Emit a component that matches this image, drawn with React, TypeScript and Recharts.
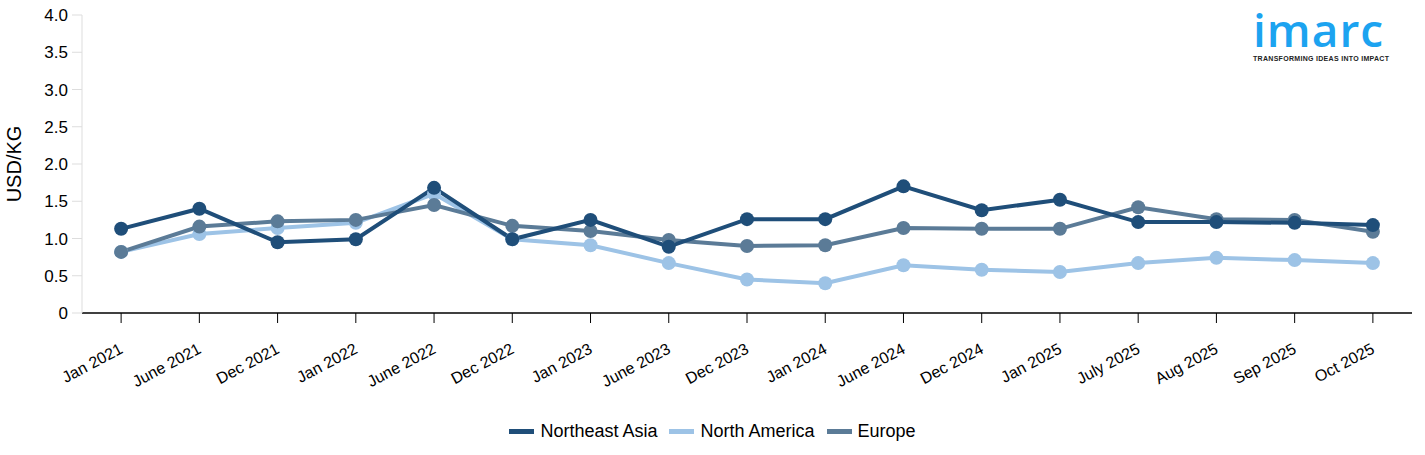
import { LineChart, Line, XAxis, YAxis } from 'recharts';

// categories on the x axis
const periods = [
  'Jan 2021', 'June 2021', 'Dec 2021', 'Jan 2022', 'June 2022', 'Dec 2022',
  'Jan 2023', 'June 2023', 'Dec 2023', 'Jan 2024', 'June 2024', 'Dec 2024',
  'Jan 2025', 'July 2025', 'Aug 2025', 'Sep 2025', 'Oct 2025',
];

// USD/KG
const northeastAsia = [1.13, 1.40, 0.95, 0.99, 1.68, 0.99, 1.25, 0.89, 1.26, 1.26, 1.70, 1.38, 1.52, 1.22, 1.22, 1.21, 1.18];
const northAmerica = [0.82, 1.06, 1.14, 1.21, 1.60, 0.99, 0.91, 0.67, 0.45, 0.40, 0.64, 0.58, 0.55, 0.67, 0.74, 0.71, 0.67];
const europe = [0.82, 1.16, 1.23, 1.25, 1.45, 1.17, 1.10, 0.98, 0.90, 0.91, 1.14, 1.13, 1.13, 1.42, 1.26, 1.25, 1.09];

const yTicks = [0, 0.5, 1, 1.5, 2, 2.5, 3, 3.5, 4];

const series = [
  { key: 'northeastAsia', name: 'Northeast Asia', color: '#1f4e79' },
  { key: 'northAmerica', name: 'North America', color: '#9dc3e6' },
  { key: 'europe', name: 'Europe', color: '#5b7b97' },
];

const data = periods.map((p, i) => ({
  period: p,
  northeastAsia: northeastAsia[i],
  northAmerica: northAmerica[i],
  europe: europe[i],
}));

const font = '"Liberation Sans", Arial, sans-serif';

const AngledTick = ({ x, y, payload }: any) => (
  <g transform={`translate(${x},${y + 22})`}>
    <text
      x={0}
      y={0}
      textAnchor="end"
      fill="#000"
      fontSize={16}
      fontFamily={font}
      transform="rotate(-28)"
      dy={6}
    >
      {payload.value}
    </text>
  </g>
);

export default function App() {
  return (
    <div style={{ position: 'absolute', left: 0, top: 0, width: 1425, height: 455, background: '#fff', fontFamily: font }}>
      <LineChart
        width={1425}
        height={455}
        data={data}
        margin={{ top: 15, right: 13, left: 0, bottom: 72 }}
      >
        <XAxis
          dataKey="period"
          scale="band"
          interval={0}
          height={70}
          tick={<AngledTick />}
          axisLine={{ stroke: '#000', strokeWidth: 1.5 }}
          tickLine={{ stroke: '#000' }}
          tickSize={10}
        />
        <YAxis
          width={82}
          domain={[0, 4]}
          ticks={yTicks}
          interval={0}
          tickFormatter={(v: number) => (v === 0 ? '0' : v.toFixed(1))}
          tick={{ fill: '#000', fontSize: 17, fontFamily: font }}
          axisLine={{ stroke: '#ddd' }}
          tickLine={{ stroke: '#ddd' }}
          tickSize={10}
          tickMargin={4}
          label={{
            value: 'USD/KG',
            angle: -90,
            position: 'insideLeft',
            dx: 9,
            style: { fill: '#000', fontSize: 20, fontFamily: font, textAnchor: 'middle' },
          }}
        />
        {[series[1], series[2], series[0]].map((s) => (
          <Line
            key={s.key}
            type="linear"
            dataKey={s.key}
            name={s.name}
            stroke={s.color}
            strokeWidth={4}
            dot={{ r: 7, fill: s.color, stroke: s.color, strokeWidth: 0 }}
            activeDot={false}
            isAnimationActive={false}
          />
        ))}
      </LineChart>

      <div
        style={{
          position: 'absolute',
          top: 421,
          left: 0,
          width: 1425,
          display: 'flex',
          justifyContent: 'center',
          gap: 12,
          fontSize: 18,
          lineHeight: '20px',
          color: '#000',
        }}
      >
        {series.map((s) => (
          <div key={s.key} style={{ display: 'flex', alignItems: 'center' }}>
            <span style={{ display: 'inline-block', width: 25, height: 5, background: s.color, marginRight: 6 }} />
            <span>{s.name}</span>
          </div>
        ))}
      </div>

      <div style={{ position: 'absolute', top: 8, left: 1253, width: 142 }}>
        <div
          style={{
            fontFamily: '"Open Sans", Roboto, sans-serif',
            fontSize: 46,
            fontWeight: 600,
            color: '#1ca3f0',
            lineHeight: '42px',
            letterSpacing: 1,
          }}
        >
          imarc
        </div>
        <div style={{ fontSize: 7, lineHeight: '9px', fontWeight: 700, color: '#222', letterSpacing: 0.3, marginTop: 4 }}>
          TRANSFORMING IDEAS INTO IMPACT
        </div>
      </div>
    </div>
  );
}
